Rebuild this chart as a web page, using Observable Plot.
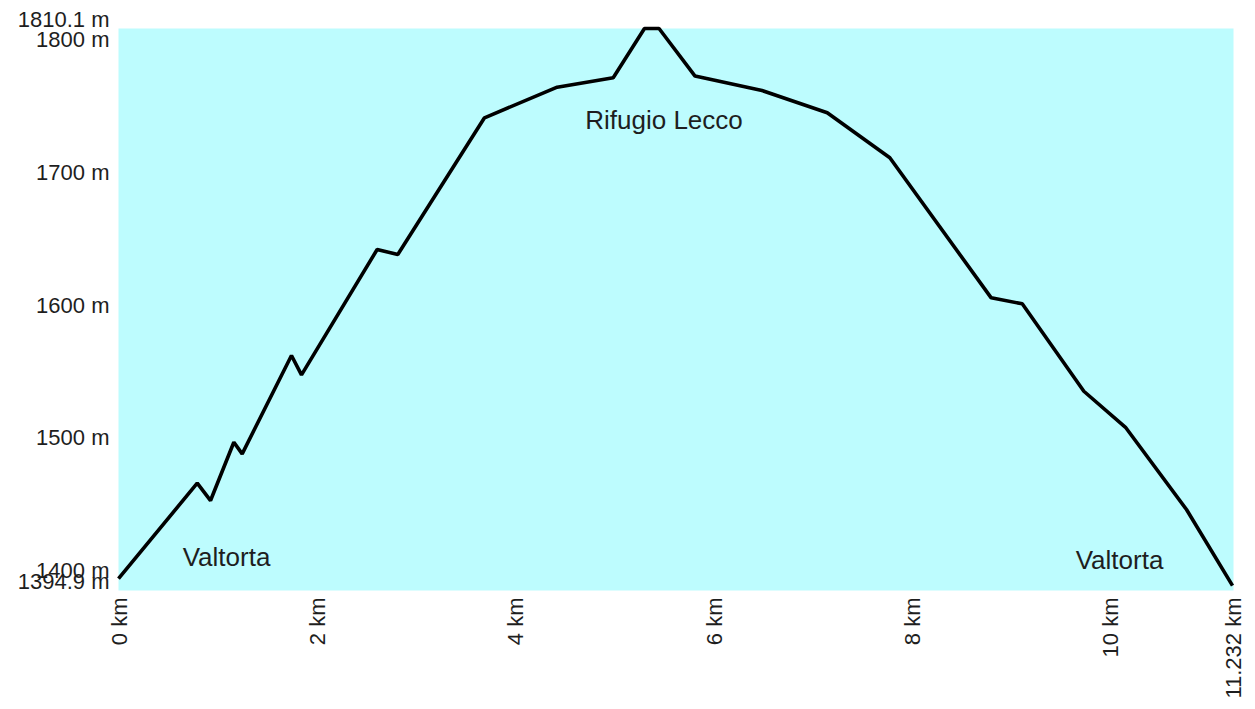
<!DOCTYPE html>
<html>
<head>
<meta charset="utf-8">
<script src="https://cdn.jsdelivr.net/npm/d3@7"></script>
<script src="https://cdn.jsdelivr.net/npm/@observablehq/plot@0.6"></script>
<style>
  html, body { margin: 0; padding: 0; background: #fff; }
  #chart svg { display: block; }
</style>
</head>
<body>
<div id="chart"></div>
<script>
// Elevation profile: distance (km) and elevation (m)
const distanceKm = [0, 0.794, 0.928, 1.163, 1.247, 1.744, 1.845, 2.608, 2.816, 3.690, 4.423, 4.988,
  5.303, 5.450, 5.813, 6.488, 7.146, 7.777, 8.799, 9.112, 9.733, 10.153, 10.768, 11.232];
const elevationM = [1394.9, 1466.9, 1453.8, 1497.8, 1489.0, 1563.3, 1548.7, 1643.3, 1639.5, 1742.7, 1765.8, 1772.9,
  1810.1, 1810.1, 1774.2, 1763.3, 1746.5, 1712.5, 1606.8, 1602.3, 1536.3, 1509.1, 1447.0, 1389.6];

// Axis ticks
const xTicks = [0, 2, 4, 6, 8, 10, 11.232];
const yTicks = [1394.9, 1400, 1500, 1600, 1700, 1800, 1810.1];
const yDomain = [1385.9, 1810.1];
const xDomain = [0, 11.242];

// Place labels
const placeNames = ["Valtorta", "Rifugio Lecco", "Valtorta"];
const placeKm = [1.089, 5.50, 10.093];
const placeElev = [1410.8, 1740.6, 1408.5];

const profile = distanceKm.map((d, i) => ({km: d, elev: elevationM[i]}));
const places = placeNames.map((n, i) => ({name: n, km: placeKm[i], elev: placeElev[i]}));

const font = "'Liberation Sans', Arial, Helvetica, sans-serif";
const fmtY = d => `${d} m`;
const fmtX = d => `${d} km`;
const yAxisOpts = {tickSize: 0, tickPadding: 9, tickFormat: fmtY, fontSize: 22, label: null};

const chart = Plot.plot({
  width: 1255,
  height: 709,
  marginLeft: 118,
  marginRight: 22,
  marginTop: 28,
  marginBottom: 119,
  style: {fontFamily: font, fontSize: "22px", color: "#1e1e1e", background: "#fff"},
  x: {domain: xDomain},
  y: {domain: yDomain},
  marks: [
    Plot.frame({fill: "#bdfcfe", stroke: null}),
    Plot.axisY(yTicks.filter(t => t >= 1400 && t < 1800), {...yAxisOpts, dy: -1}),
    Plot.axisY(yTicks.filter(t => t === 1800), {...yAxisOpts, dy: -2}),
    Plot.axisY(yTicks.filter(t => t > 1800), {...yAxisOpts, dy: -9}),
    Plot.axisY(yTicks.filter(t => t < 1400), {...yAxisOpts, dy: 3}),
    Plot.axisX(xTicks, {tickSize: 0, tickPadding: 7, tickFormat: fmtX, tickRotate: -90, fontSize: 22, label: null, dx: 1}),
    Plot.line(profile, {x: "km", y: "elev", stroke: "#000", strokeWidth: 3.6, strokeLinejoin: "miter", strokeLinecap: "butt"}),
    Plot.text(places, {x: "km", y: "elev", text: "name", fontSize: 26, fill: "#1e1e1e", textAnchor: "middle", lineAnchor: "middle"})
  ]
});
document.getElementById("chart").appendChild(chart);
</script>
</body>
</html>
